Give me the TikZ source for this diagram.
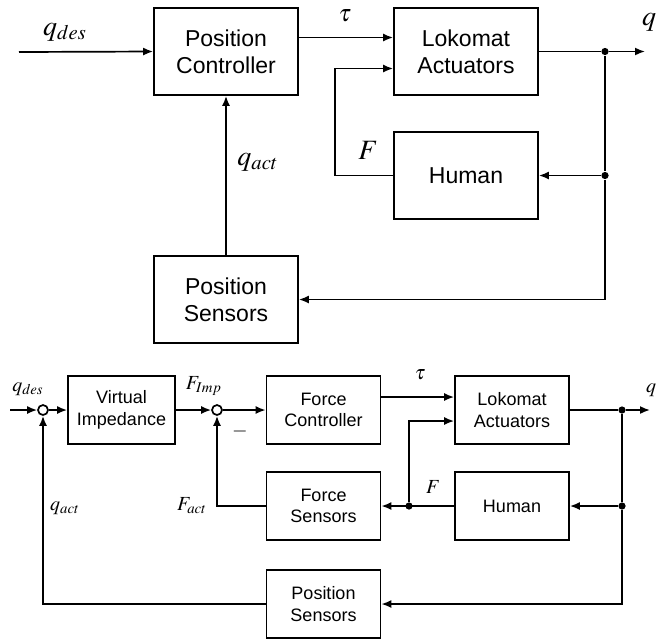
\documentclass[tikz,border=0pt]{standalone}
\usepackage{amsmath}
\usepackage{mathptmx}
\usepackage{fontspec}
\setmainfont{Liberation Sans}
\usetikzlibrary{arrows.meta}

\begin{document}
\begin{tikzpicture}
            [
                x=0.5pt, y=-0.5pt,
                line width=0.85pt,
                bigbox/.style={draw, minimum width=72pt, minimum height=43.5pt,
                    align=center, font=\fontsize{11.5}{13.5}\selectfont},
                smallbox/.style={draw, minimum width=57pt, minimum height=34pt,
                    align=center, font=\fontsize{9}{10.8}\selectfont},
                biglabel/.style={font=\fontsize{14}{16}\selectfont},
                smalllabel/.style={font=\fontsize{10}{12}\selectfont},
                sumnode/.style={draw, circle, inner sep=0pt, minimum size=5pt},
                junction/.style={fill, circle, inner sep=0pt, minimum size=3.6pt},
                ->, >={Latex[length=5pt,width=4pt]}
            ]
            \useasboundingbox (0,0) rectangle (657,639);

            % position control loop
            \node [bigbox] (pc) at (226,51.5) {Position\\Controller};
            \node [bigbox] (act) at (466,51.5) {Lokomat\\Actuators};
            \node [bigbox] (hum) at (466,175.5) {Human};
            \node [bigbox] (pos) at (226,299.5) {Position\\Sensors};
            \coordinate (qin) at (19,52);
            \coordinate (qout) at (645,51.5);
            \node [junction] (jq) at (605,51.5) {};
            \node [junction] (jh) at (605,175.5) {};

            \draw (qin) -- (pc.west);
            \draw ([yshift=7pt]pc.east) -- ([yshift=7pt]act.west);
            \draw [-] (act.east) -- (jq);
            \draw (jq) -- (qout);
            \draw [-] (jq) -- (jh);
            \draw (jh) -- (hum.east);
            \draw (jh) |- (pos.east);
            \draw (hum.west) -- ++(-58,0) |- ([yshift=-8.5pt]act.west);
            \draw (pos) -- (pc);

            \node [biglabel] at (65,32) {$q_{des}$};
            \node [font=\fontsize{12}{14}\selectfont] at (345,16) {$\tau$};
            \node [biglabel, anchor=east, inner sep=0pt] at (657,22) {$q$};
            \node [biglabel] at (368,150) {$F$};
            \node [biglabel] at (258,162) {$q_{act}$};

            % impedance control loop
            \node [smallbox, minimum width=53.5pt] (imp) at (121.5,410) {Virtual\\Impedance};
            \node [sumnode] (s1) at (43,410) {};
            \node [sumnode] (s2) at (217,410) {};
            \node [smallbox] (fc) at (323.5,410) {Force\\Controller};
            \node [smallbox] (fs) at (323.5,506) {Force\\Sensors};
            \node [smallbox] (ps) at (323.5,604) {Position\\Sensors};
            \node [smallbox] (lact) at (512,410) {Lokomat\\Actuators};
            \node [smallbox] (lhum) at (512,506) {Human};
            \coordinate (qdin) at (10,410);
            \coordinate (qdout) at (650,410);
            \node [junction] (jf) at (409,506) {};
            \node [junction] (jq2) at (622,410) {};
            \node [junction] (jh2) at (622,506) {};

            \draw (qdin) -- (s1.west);
            \draw (s1.east) -- (imp.west);
            \draw (imp.east) -- (s2.west);
            \draw (s2.east) -- (fc.west);
            \draw ([yshift=6.5pt]fc.east) -- ([yshift=6.5pt]lact.west);
            \draw [-] (lact.east) -- (jq2);
            \draw (jq2) -- (qdout);
            \draw [-] (jq2) -- (jh2);
            \draw (jh2) -- (lhum.east);
            \draw (jh2) |- (ps.east);
            \draw (lhum.west) -- (fs.east);
            \draw (jf) |- ([yshift=-5.5pt]lact.west);
            \draw (fs.west) -| (s2.south);
            \draw (ps.west) -| (s1.south);

            \node [smalllabel] at (28,389) {$q_{des}$};
            \node [smalllabel] at (204,386) {$F_{Imp}$};
            \node [smalllabel] at (240,431) {$-$};
            \node [smalllabel] at (420,375) {$\tau$};
            \node [smalllabel] at (433,487) {$F$};
            \node [smalllabel, anchor=east, inner sep=0pt] at (657,390) {$q$};
            \node [smalllabel] at (192,506) {$F_{act}$};
            \node [smalllabel] at (65,508) {$q_{act}$};
        \end{tikzpicture}
\end{document}
